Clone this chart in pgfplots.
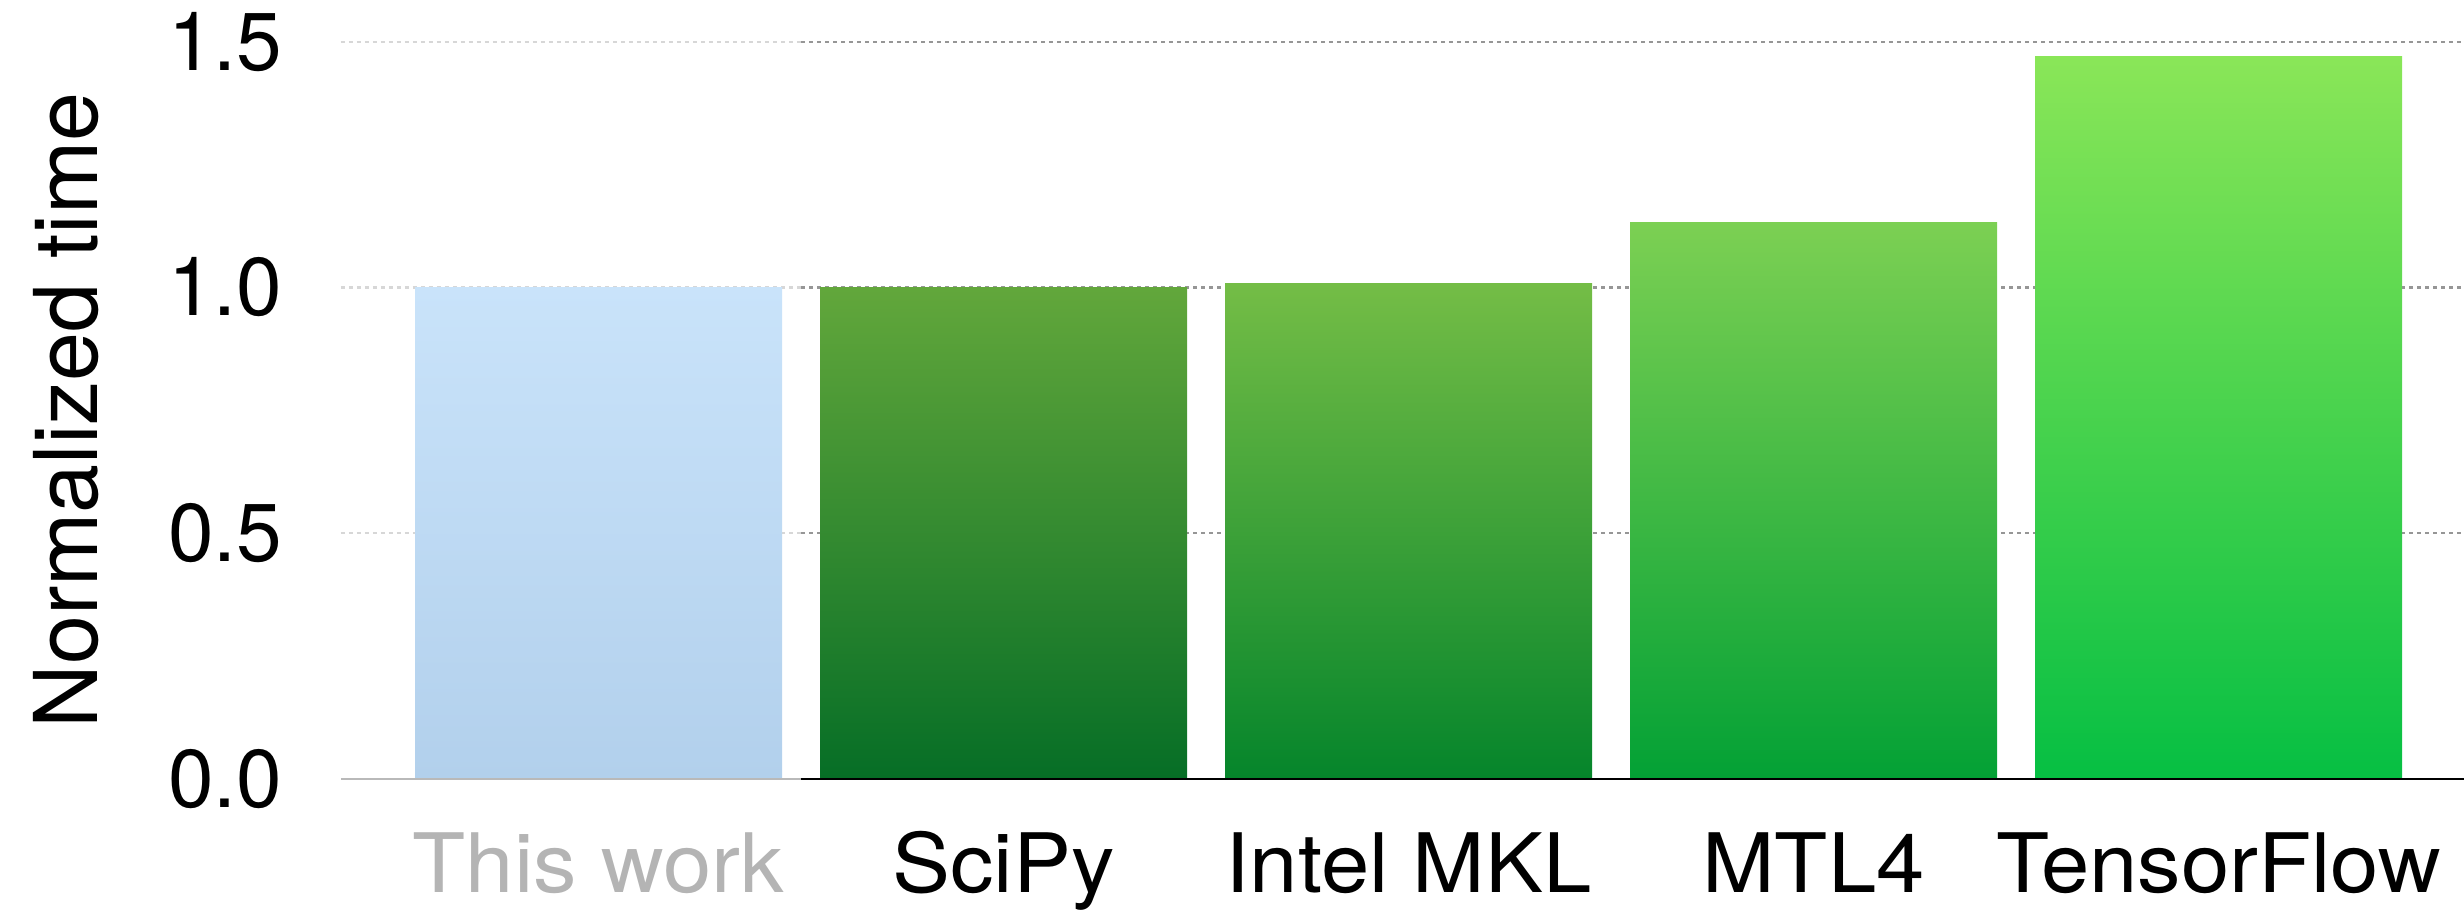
\documentclass[border=0pt]{standalone}
\usepackage{fontspec}
\setmainfont{TeX Gyre Heros}
\newfontfamily\catfont{TeX Gyre Heros}[FakeStretch=1.06]
\usepackage{pgfplots}
\pgfplotsset{compat=1.18}

% bar gradients (top / bottom)
\definecolor{thisTop}{RGB}{201,227,250}
\definecolor{thisBot}{RGB}{178,208,236}
\definecolor{sciTop}{RGB}{98,167,59}
\definecolor{sciBot}{RGB}{6,110,38}
\definecolor{mklTop}{RGB}{116,189,70}
\definecolor{mklBot}{RGB}{5,133,43}
\definecolor{mtlTop}{RGB}{124,208,83}
\definecolor{mtlBot}{RGB}{3,161,53}
\definecolor{tfTop}{RGB}{138,230,88}
\definecolor{tfBot}{RGB}{6,191,67}
\definecolor{gridDark}{RGB}{150,150,150}
\definecolor{gridLight}{RGB}{215,215,215}
\definecolor{baseLight}{RGB}{185,185,185}
\definecolor{labelGray}{RGB}{180,180,180}

\begin{document}
\begin{tikzpicture}
\useasboundingbox (-85.25pt,-34.25pt) rectangle (530.75pt,194.75pt);
\begin{axis}[
  at={(0,0)}, anchor=south west,
  scale only axis,
  width=530.75pt, height=184.3pt,
  xmin=-0.636, xmax=4.606,
  ymin=0, ymax=1.5,
  clip=false,
  axis line style={draw=none},
  major tick length=0pt,
  xtick={0,1,2,3,4},
  xticklabels={\textcolor{labelGray}{This work},SciPy,Intel MKL,MTL4,TensorFlow},
  ytick={0,0.5,1,1.5},
  yticklabels={0.0,0.5,1.0,1.5},
  tick label style={font=\fontsize{20.5pt}{24pt}\selectfont},
  xticklabel style={anchor=base, inner sep=0pt, yshift=-28.5pt,
    font=\catfont\fontsize{20.5pt}{24pt}\selectfont},
  yticklabel style={anchor=east, inner sep=0pt, xshift=-14.5pt},
  ylabel={Normalized time},
  ylabel style={at={(axis description cs:-0.1149,0.5)}, anchor=base, rotate=0,
    font=\fontsize{22pt}{26pt}\selectfont},
  /pgf/number format/assume math mode=true,
]
% dotted horizontal guides, dimmed over the first column
\pgfplotsinvokeforeach{0.5,1.0,1.5}{
  \addplot[gridLight, line width=0.6pt, dash pattern=on 1pt off 1pt]
    coordinates {(-0.636,#1) (0.5,#1)};
  \addplot[gridDark, line width=0.6pt, dash pattern=on 1pt off 1pt]
    coordinates {(0.5,#1) (4.606,#1)};
}
% bars
\addplot[ybar, bar width=0.906, bar shift=0pt, draw=none,
  top color=thisTop, bottom color=thisBot] coordinates {(0,1.0)};
\addplot[ybar, bar width=0.906, bar shift=0pt, draw=none,
  top color=sciTop, bottom color=sciBot] coordinates {(1,1.001)};
\addplot[ybar, bar width=0.906, bar shift=0pt, draw=none,
  top color=mklTop, bottom color=mklBot] coordinates {(2,1.009)};
\addplot[ybar, bar width=0.906, bar shift=0pt, draw=none,
  top color=mtlTop, bottom color=mtlBot] coordinates {(3,1.133)};
\addplot[ybar, bar width=0.906, bar shift=0pt, draw=none,
  top color=tfTop, bottom color=tfBot] coordinates {(4,1.471)};
% baseline
\addplot[baseLight, line width=0.6pt] coordinates {(-0.636,0) (0.5,0)};
\addplot[black, line width=0.6pt] coordinates {(0.5,0) (4.606,0)};
\end{axis}
\end{tikzpicture}
\end{document}
